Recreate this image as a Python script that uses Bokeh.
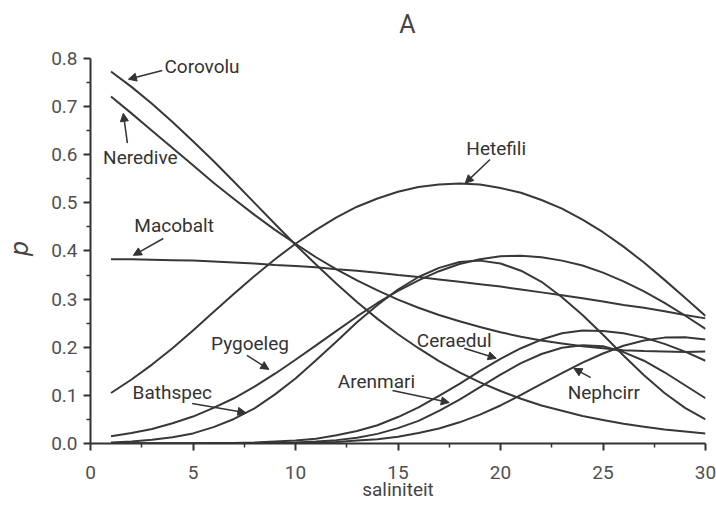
from bokeh.plotting import figure
from bokeh.models import FixedTicker, Label, Arrow, NormalHead, Range1d, NumeralTickFormatter
from bokeh.embed import file_html
from bokeh.resources import INLINE

# ---- data ----
salinity = [1, 2, 3, 4, 5, 6, 7, 8, 9, 10, 11, 12, 13, 14, 15,
            16, 17, 18, 19, 20, 21, 22, 23, 24, 25, 26, 27, 28, 29, 30]

corovolu = [0.773, 0.741, 0.706, 0.668, 0.628, 0.587, 0.544, 0.500, 0.456, 0.413,
            0.372, 0.332, 0.294, 0.259, 0.227, 0.198, 0.171, 0.148, 0.127, 0.109,
            0.093, 0.079, 0.068, 0.057, 0.049, 0.041, 0.035, 0.029, 0.025, 0.021]
neredive = [0.721, 0.686, 0.650, 0.614, 0.578, 0.542, 0.508, 0.475, 0.444, 0.415,
            0.387, 0.362, 0.339, 0.318, 0.299, 0.282, 0.267, 0.254, 0.242, 0.231,
            0.222, 0.214, 0.208, 0.202, 0.198, 0.194, 0.192, 0.191, 0.190, 0.191]
macobalt = [0.383, 0.383, 0.382, 0.381, 0.380, 0.378, 0.376, 0.374, 0.371, 0.369,
            0.366, 0.362, 0.359, 0.355, 0.350, 0.346, 0.341, 0.336, 0.331, 0.326,
            0.320, 0.314, 0.308, 0.302, 0.295, 0.288, 0.282, 0.275, 0.267, 0.260]
hetefili = [0.105, 0.133, 0.164, 0.198, 0.235, 0.273, 0.311, 0.348, 0.383, 0.415,
            0.444, 0.470, 0.492, 0.509, 0.523, 0.533, 0.538, 0.540, 0.538, 0.531,
            0.521, 0.506, 0.488, 0.465, 0.439, 0.409, 0.376, 0.340, 0.303, 0.265]
pygoeleg = [0.015, 0.022, 0.030, 0.042, 0.056, 0.074, 0.094, 0.118, 0.145, 0.174,
            0.204, 0.234, 0.264, 0.292, 0.317, 0.339, 0.358, 0.373, 0.383, 0.389,
            0.390, 0.387, 0.380, 0.370, 0.355, 0.337, 0.316, 0.292, 0.266, 0.238]
bathspec = [0.002, 0.004, 0.008, 0.013, 0.021, 0.034, 0.051, 0.073, 0.102, 0.135,
            0.173, 0.212, 0.252, 0.288, 0.320, 0.346, 0.365, 0.377, 0.380, 0.374,
            0.359, 0.336, 0.304, 0.267, 0.226, 0.183, 0.142, 0.105, 0.074, 0.050]
ceraedul = [0.000, 0.000, 0.000, 0.000, 0.000, 0.001, 0.001, 0.002, 0.004, 0.006,
            0.010, 0.017, 0.026, 0.038, 0.055, 0.075, 0.099, 0.124, 0.151, 0.176,
            0.198, 0.216, 0.229, 0.235, 0.234, 0.229, 0.220, 0.207, 0.191, 0.172]
arenmari = [0.000, 0.000, 0.000, 0.000, 0.000, 0.000, 0.000, 0.000, 0.001, 0.002,
            0.004, 0.007, 0.012, 0.020, 0.032, 0.047, 0.068, 0.091, 0.117, 0.143,
            0.167, 0.186, 0.199, 0.204, 0.202, 0.190, 0.172, 0.148, 0.121, 0.094]
nephcirr = [0.000, 0.000, 0.000, 0.000, 0.000, 0.000, 0.000, 0.000, 0.001, 0.001,
            0.002, 0.003, 0.006, 0.009, 0.014, 0.022, 0.031, 0.044, 0.060, 0.079,
            0.101, 0.124, 0.146, 0.168, 0.187, 0.203, 0.214, 0.220, 0.221, 0.216]

x_ticks = [0, 5, 10, 15, 20, 25, 30]
x_minor = [2.5, 7.5, 12.5, 17.5, 22.5, 27.5]
y_ticks = [0.0, 0.1, 0.2, 0.3, 0.4, 0.5, 0.6, 0.7, 0.8]
y_minor = [0.05, 0.15, 0.25, 0.35, 0.45, 0.55, 0.65, 0.75]

series = [corovolu, neredive, macobalt, hetefili, pygoeleg,
          bathspec, ceraedul, arenmari, nephcirr]

# label text, text position, arrow start, arrow tip (data units)
annotations = [
    ("Corovolu", (5.44, 0.784), (3.50, 0.775), (1.85, 0.757)),
    ("Neredive", (2.43, 0.595), (1.80, 0.624), (1.60, 0.686)),
    ("Macobalt", (4.08, 0.453), (3.55, 0.426), (2.09, 0.391)),
    ("Hetefili", (19.79, 0.613), (19.49, 0.590), (18.28, 0.541)),
    ("Pygoeleg", (7.78, 0.208), (7.63, 0.183), (8.70, 0.154)),
    ("Bathspec", (3.99, 0.106), (4.96, 0.083), (7.58, 0.064)),
    ("Arenmari", (13.95, 0.129), (14.73, 0.110), (17.50, 0.085)),
    ("Ceraedul", (17.74, 0.214), (18.23, 0.198), (19.79, 0.177)),
    ("Nephcirr", (25.04, 0.106), (24.40, 0.137), (23.58, 0.156)),
]

FONT = "Roboto"
INK = "#333333"

# the frame reaches the top edge; the y axis itself is bounded to 0..0.8
p = figure(width=716, height=505,
           x_range=Range1d(0, 30), y_range=Range1d(0, 0.9205),
           output_backend="svg", toolbar_location=None,
           min_border_left=90, min_border_right=11,
           min_border_top=0, min_border_bottom=62)
p.outline_line_color = None
p.xgrid.visible = False
p.ygrid.visible = False
p.background_fill_color = "white"
p.border_fill_color = "white"

for ys in series:
    p.line(salinity, ys, line_color="#383838", line_width=2, line_join="round")

for ax in (p.xaxis[0], p.yaxis[0]):
    ax.axis_line_width = 2
    ax.axis_line_color = INK
    ax.major_tick_line_color = INK
    ax.minor_tick_line_color = INK
    ax.major_tick_line_width = 2
    ax.minor_tick_line_width = 1.5
    ax.major_tick_in = 0
    ax.major_tick_out = 7
    ax.minor_tick_in = 0
    ax.minor_tick_out = 4
    ax.major_label_text_font = FONT
    ax.major_label_text_font_size = "19px"
    ax.major_label_text_color = "#505050"

p.xaxis.ticker = FixedTicker(ticks=x_ticks, minor_ticks=x_minor)
p.yaxis.ticker = FixedTicker(ticks=y_ticks, minor_ticks=y_minor)
p.yaxis.bounds = (0, 0.8)
p.yaxis.formatter = NumeralTickFormatter(format="0.0")
p.xaxis.major_label_standoff = 15
p.yaxis.major_label_standoff = 6

p.xaxis.axis_label = "saliniteit"
p.xaxis.axis_label_text_font = FONT
p.xaxis.axis_label_text_font_style = "normal"
p.xaxis.axis_label_text_font_size = "19px"
p.xaxis.axis_label_text_color = "#444444"
p.xaxis.axis_label_standoff = -4

# trailing no-break spaces move the rotated "p" down to the middle of 0..0.8
p.yaxis.axis_label = "p" + "\u00a0" * 7
p.yaxis.axis_label_text_font = "DejaVu Sans"
p.yaxis.axis_label_text_font_style = "italic"
p.yaxis.axis_label_text_font_size = "24px"
p.yaxis.axis_label_text_color = "#444444"
p.yaxis.axis_label_standoff = 14

# panel letter
p.add_layout(Label(x=15.46, y=0.8706, text="A", text_align="center",
                   text_baseline="middle", text_font="Roboto",
                   text_font_size="25px", text_color="#444444"))

for name, (tx, ty), (sx, sy), (ex, ey) in annotations:
    p.add_layout(Label(x=tx, y=ty, text=name, text_align="center",
                       text_baseline="middle", text_font=FONT,
                       text_font_size="19px", text_color=INK))
    p.add_layout(Arrow(x_start=sx, y_start=sy, x_end=ex, y_end=ey,
                       line_color=INK, line_width=1.5,
                       end=NormalHead(size=8, fill_color=INK,
                                      line_color=INK, line_width=1)))

open("out.html", "w").write(file_html(p, INLINE))
